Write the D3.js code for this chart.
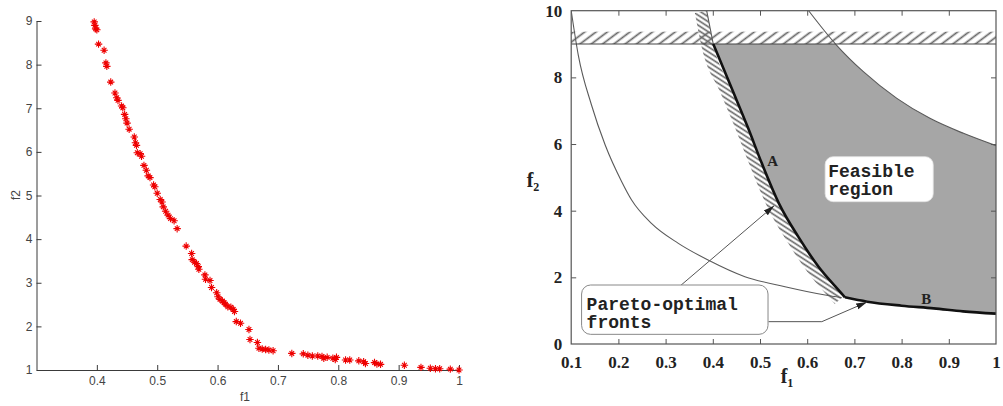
<!DOCTYPE html>
<html><head><meta charset="utf-8">
<script src="https://cdn.jsdelivr.net/npm/d3@7"></script>
<style>body{margin:0;background:#fff} svg{display:block}</style>
</head><body>
<svg id="chart" width="1003" height="406"></svg>
<script>
// ---------- LEFT PANEL DATA (obtained Pareto set) ----------
const scatterF1 = [0.3956,0.3967,0.398,0.400,0.4028,0.412,0.415,0.4165,0.423,0.430,0.433,0.435,0.441,0.443,0.446,0.448,0.450,0.4535,0.462,0.464,0.4656,0.467,0.4717,0.474,0.478,0.482,0.485,0.488,0.494,0.496,0.500,0.505,0.508,0.510,0.514,0.518,0.522,0.528,0.533,0.548,0.557,0.558,0.562,0.565,0.568,0.569,0.579,0.580,0.5875,0.590,0.5985,0.6007,0.604,0.608,0.611,0.613,0.617,0.622,0.626,0.628,0.631,0.638,0.652,0.6537,0.666,0.6685,0.674,0.6796,0.685,0.692,0.723,0.742,0.7496,0.757,0.766,0.773,0.776,0.7816,0.791,0.795,0.797,0.812,0.819,0.834,0.842,0.845,0.860,0.864,0.870,0.9095,0.937,0.9525,0.961,0.968,0.9856,1.0];
const scatterF2 = [8.98,8.90,8.82,8.80,8.47,8.33,8.04,7.96,7.60,7.35,7.24,7.18,7.05,7.01,6.86,6.76,6.66,6.52,6.34,6.21,6.15,5.98,5.96,5.90,5.69,5.58,5.45,5.41,5.24,5.20,5.05,4.91,4.85,4.74,4.64,4.55,4.47,4.42,4.24,3.84,3.67,3.53,3.47,3.44,3.37,3.31,3.18,3.08,3.05,2.89,2.77,2.68,2.62,2.58,2.54,2.51,2.45,2.44,2.39,2.34,2.11,2.07,1.93,1.70,1.63,1.50,1.48,1.47,1.46,1.44,1.38,1.37,1.34,1.32,1.32,1.31,1.27,1.29,1.27,1.24,1.29,1.23,1.23,1.21,1.19,1.15,1.17,1.14,1.13,1.11,1.06,1.04,1.03,1.03,1.02,1.0];
const leftXDomain = [0.3, 1];
const leftYDomain = [1, 9];
const leftXTicks = [0.4, 0.5, 0.6, 0.7, 0.8, 0.9, 1];
const leftYTicks = [1, 2, 3, 4, 5, 6, 7, 8, 9];

// ---------- RIGHT PANEL DATA (textbook figure) ----------
const rightXDomain = [0.1, 1];
const rightYDomain = [0, 10];
const rightXTicks = [0.1, 0.2, 0.3, 0.4, 0.5, 0.6, 0.7, 0.8, 0.9, 1];
const rightYTicks = [0, 2, 4, 6, 8, 10];
const unconstrainedCurve = [[0.1,10],[0.115,8.67],[0.143,7.17],[0.172,5.97],[0.207,4.87],[0.228,4.32],[0.27,3.62],[0.327,3.02],[0.39,2.52],[0.468,2.02],[0.553,1.72],[0.638,1.47],[0.673,1.39]];
const constraintExtension = [[0.387,10],[0.401,9.0]];
const frontA = [[0.401,9.0],[0.44,7.67],[0.475,6.47],[0.503,5.45],[0.54,4.22],[0.581,3.22],[0.624,2.32],[0.66,1.72],[0.68,1.40]];
const frontB = [[0.68,1.40],[0.727,1.27],[0.8,1.15],[0.868,1.07],[0.93,0.98],[1.0,0.91]];
const upperBoundCurve = [[0.603,10],[0.662,8.97],[0.719,8.17],[0.79,7.37],[0.86,6.77],[0.931,6.32],[1.0,5.95]];
const constraintLevel = 9;
const constraintBandTop = 9.37;
const arrowToA = [[0.324,1.66],[0.53,4.15]];
const arrowToB = [[0.518,0.67],[0.631,0.67],[0.727,1.26]];
const labelA = [0.527, 5.35];
const labelB = [0.852, 1.2];
const feasibleBox = [[0.638,5.62],[0.867,4.27]];
const feasibleText = ["Feasible", "region"];
const paretoBox = [[0.122,1.77],[0.517,0.29]];
const paretoText = ["Pareto-optimal", "fronts"];

const svg = d3.select("#chart");
const defs = svg.append("defs");

// ======================= LEFT PANEL =======================
const xL = d3.scaleLinear(leftXDomain, [36.5, 459]);
const yL = d3.scaleLinear(leftYDomain, [370, 21]);
const left = svg.append("g");
const axisColor = "#3a3a3a";

const gxL = left.append("g").attr("transform", "translate(0,370)")
  .call(d3.axisBottom(xL).tickValues(leftXTicks).tickSizeInner(-5).tickSizeOuter(0).tickPadding(6).tickFormat(d => String(d)));
const gyL = left.append("g").attr("transform", "translate(36.5,0)")
  .call(d3.axisLeft(yL).tickValues(leftYTicks).tickSizeInner(-5).tickSizeOuter(0).tickPadding(4).tickFormat(d => String(d)));
[gxL, gyL].forEach(g => {
  g.selectAll("path,line").attr("stroke", axisColor);
  g.selectAll("text").attr("fill", "#444").style("font-family", "Liberation Sans, Arial, sans-serif").style("font-size", "12px");
});

const starSymbol = {
  draw(ctx, size) {
    const r = Math.sqrt(size) / 2;
    const d = r * 0.62;
    ctx.moveTo(-r, 0); ctx.lineTo(r, 0);
    ctx.moveTo(0, -r); ctx.lineTo(0, r);
    ctx.moveTo(-d, -d); ctx.lineTo(d, d);
    ctx.moveTo(-d, d); ctx.lineTo(d, -d);
  }
};
left.append("g").selectAll("path").data(d3.range(scatterF1.length)).join("path")
  .attr("transform", i => `translate(${xL(scatterF1[i])},${yL(scatterF2[i])})`)
  .attr("d", d3.symbol(starSymbol, 56))
  .attr("fill", "none").attr("stroke", "#ee0000").attr("stroke-width", 1.1);

left.append("text").attr("x", 245).attr("y", 401).attr("text-anchor", "middle")
  .style("font-family", "Liberation Sans, Arial, sans-serif").style("font-size", "12px").attr("fill", "#444").text("f1");
left.append("text").attr("transform", "translate(20,195) rotate(-90)").attr("text-anchor", "middle")
  .style("font-family", "Liberation Sans, Arial, sans-serif").style("font-size", "12px").attr("fill", "#444").text("f2");

// ======================= RIGHT PANEL =======================
const xR = d3.scaleLinear(rightXDomain, [571.2, 996]);
const yR = d3.scaleLinear(rightYDomain, [344, 10.7]);
const right = svg.append("g");
const P = p => [xR(p[0]), yR(p[1])];
const mono = d3.line().x(d => xR(d[0])).y(d => yR(d[1])).curve(d3.curveMonotoneX);
const straight = d3.line().x(d => xR(d[0])).y(d => yR(d[1]));

defs.append("clipPath").attr("id", "frameClip").append("rect")
  .attr("x", xR(0.1)).attr("y", yR(10)).attr("width", xR(1) - xR(0.1)).attr("height", yR(0) - yR(10));

// hatch patterns
const bandPat = defs.append("pattern").attr("id", "bandHatch").attr("patternUnits", "userSpaceOnUse")
  .attr("width", 12).attr("height", 6.8).attr("patternTransform", "rotate(-37)");
bandPat.append("line").attr("x1", 0).attr("y1", 3.4).attr("x2", 12).attr("y2", 3.4).attr("stroke", "#666").attr("stroke-width", 1.7);
const stripPat = defs.append("pattern").attr("id", "stripHatch").attr("patternUnits", "userSpaceOnUse")
  .attr("width", 12).attr("height", 4.2).attr("patternTransform", "rotate(33)");
stripPat.append("line").attr("x1", 0).attr("y1", 2.1).attr("x2", 12).attr("y2", 2.1).attr("stroke", "#666").attr("stroke-width", 1.6);

// feasible region
const lowerClipD = mono(frontA) + mono(frontB).replace(/^M/, "L") +
  `L${xR(1)},${yR(constraintLevel)}L${xR(frontA[0][0])},${yR(constraintLevel)}Z`;
defs.append("clipPath").attr("id", "lowerClip").append("path").attr("d", lowerClipD);
const underUpperD = mono(upperBoundCurve) + `L${xR(1)},${yR(0)}L${xR(0.1)},${yR(0)}L${xR(0.1)},${yR(10)}Z`;
right.append("path").attr("d", underUpperD).attr("clip-path", "url(#lowerClip)").attr("fill", "#a6a6a6");

// top constraint band hatch
right.append("rect").attr("x", xR(0.1)).attr("y", yR(constraintBandTop))
  .attr("width", xR(1) - xR(0.1)).attr("height", yR(constraintLevel) - yR(constraintBandTop))
  .attr("fill", "url(#bandHatch)");

// hatched strip on infeasible side of constraint A
const tmp = right.append("path").attr("d", mono(constraintExtension.concat(frontA.slice(1)))).attr("fill", "none");
const node = tmp.node();
const L = node.getTotalLength();
const samples = d3.range(0, L + 0.01, 2).map(s => node.getPointAtLength(Math.min(s, L)));
const offsetPts = samples.map((p, i) => {
  const a = samples[Math.max(0, i - 1)], b = samples[Math.min(samples.length - 1, i + 1)];
  let tx = b.x - a.x, ty = b.y - a.y; const n = Math.hypot(tx, ty) || 1; tx /= n; ty /= n;
  return [p.x - ty * 12, p.y + tx * 12];
});
tmp.remove();
const stripPoly = samples.map(p => [p.x, p.y]).concat(offsetPts.reverse());
right.append("path").attr("d", "M" + stripPoly.map(p => p.join(",")).join("L") + "Z")
  .attr("fill", "url(#stripHatch)").attr("clip-path", "url(#frameClip)");

// thin curves
const thin = right.append("g").attr("fill", "none").attr("stroke", "#5a5a5a").attr("stroke-width", 1.1).attr("clip-path", "url(#frameClip)");
thin.append("path").attr("d", mono(unconstrainedCurve));
thin.append("path").attr("d", straight(constraintExtension));
thin.append("path").attr("d", mono(upperBoundCurve));
thin.append("line").attr("x1", xR(0.1)).attr("x2", xR(1)).attr("y1", yR(constraintLevel)).attr("y2", yR(constraintLevel)).attr("stroke", "#444");

// thick Pareto fronts
right.append("path").attr("d", mono(frontA)).attr("fill", "none").attr("stroke", "#111").attr("stroke-width", 2.6);
right.append("path").attr("d", mono(frontB)).attr("fill", "none").attr("stroke", "#111").attr("stroke-width", 2.6);

// annotation boxes
const fb0 = P(feasibleBox[0]), fb1 = P(feasibleBox[1]);
right.append("rect").attr("x", fb0[0]).attr("y", fb0[1]).attr("width", fb1[0] - fb0[0]).attr("height", fb1[1] - fb0[1])
  .attr("rx", 8).attr("fill", "#fff").attr("stroke", "#e2e2e2").attr("stroke-width", 0.8);
right.append("g").selectAll("text").data(feasibleText).join("text")
  .attr("x", fb0[0] + 3).attr("y", (d, i) => fb0[1] + 20 + i * 18.3)
  .style("font-family", "Liberation Mono, Courier New, monospace").style("font-size", "18px").style("font-weight", "bold")
  .attr("fill", "#222").text(d => d);

// arrows
const marker = defs.append("marker").attr("id", "arrowHead").attr("markerUnits", "userSpaceOnUse")
  .attr("markerWidth", 12).attr("markerHeight", 8).attr("refX", 11).attr("refY", 4).attr("orient", "auto");
marker.append("path").attr("d", "M0,0.8L11,4L0,7.2Z").attr("fill", "#222");
right.append("path").attr("d", straight(arrowToA)).attr("fill", "none").attr("stroke", "#555").attr("stroke-width", 1).attr("marker-end", "url(#arrowHead)");
right.append("path").attr("d", straight(arrowToB)).attr("fill", "none").attr("stroke", "#555").attr("stroke-width", 1).attr("marker-end", "url(#arrowHead)");

const pb0 = P(paretoBox[0]), pb1 = P(paretoBox[1]);
right.append("rect").attr("x", pb0[0]).attr("y", pb0[1]).attr("width", pb1[0] - pb0[0]).attr("height", pb1[1] - pb0[1])
  .attr("rx", 9).attr("fill", "#fff").attr("stroke", "#888").attr("stroke-width", 1);
right.append("g").selectAll("text").data(paretoText).join("text")
  .attr("x", pb0[0] + 5).attr("y", (d, i) => pb0[1] + 25 + i * 18.3)
  .style("font-family", "Liberation Mono, Courier New, monospace").style("font-size", "18px").style("font-weight", "bold")
  .attr("fill", "#222").text(d => d);

// A / B labels
right.append("text").attr("x", P(labelA)[0]).attr("y", P(labelA)[1]).attr("text-anchor", "middle")
  .style("font-family", "Liberation Serif, Times New Roman, serif").style("font-size", "15px").style("font-weight", "bold").attr("fill", "#222").text("A");
right.append("text").attr("x", P(labelB)[0]).attr("y", P(labelB)[1]).attr("text-anchor", "middle")
  .style("font-family", "Liberation Serif, Times New Roman, serif").style("font-size", "15px").style("font-weight", "bold").attr("fill", "#222").text("B");

// frame & axes
const frameColor = "#555";
right.append("rect").attr("x", xR(0.1)).attr("y", yR(10)).attr("width", xR(1) - xR(0.1)).attr("height", yR(0) - yR(10))
  .attr("fill", "none").attr("stroke", frameColor).attr("stroke-width", 1.2);
const innerX = rightXTicks.slice(1, -1), innerY = rightYTicks.slice(1, -1);
const serifBold = g => g.selectAll("text").style("font-family", "Liberation Serif, Times New Roman, serif")
  .style("font-size", "17px").style("font-weight", "bold").attr("fill", "#222");
const gxR = right.append("g").attr("transform", `translate(0,${yR(0)})`)
  .call(d3.axisBottom(xR).tickValues(rightXTicks).tickSizeInner(-5).tickSizeOuter(0).tickPadding(12).tickFormat(d => String(+d.toFixed(1))));
gxR.selectAll(".tick line").attr("stroke", d => innerX.includes(d) ? frameColor : "none");
gxR.select(".domain").remove(); serifBold(gxR);
const gyR = right.append("g").attr("transform", `translate(${xR(0.1)},0)`)
  .call(d3.axisLeft(yR).tickValues(rightYTicks).tickSizeInner(-5).tickSizeOuter(0).tickPadding(9).tickFormat(d => String(d)));
gyR.selectAll(".tick line").attr("stroke", d => innerY.includes(d) ? frameColor : "none");
gyR.select(".domain").remove(); serifBold(gyR);
const gtR = right.append("g").attr("transform", `translate(0,${yR(10)})`)
  .call(d3.axisTop(xR).tickValues(innerX).tickSizeInner(-5).tickSizeOuter(0).tickFormat(""));
gtR.selectAll(".tick line").attr("stroke", frameColor); gtR.select(".domain").remove();
const grR = right.append("g").attr("transform", `translate(${xR(1)},0)`)
  .call(d3.axisRight(yR).tickValues(innerY).tickSizeInner(-5).tickSizeOuter(0).tickFormat(""));
grR.selectAll(".tick line").attr("stroke", frameColor); grR.select(".domain").remove();

// axis titles
const t1 = right.append("text").attr("x", 787).attr("y", 383).attr("text-anchor", "middle")
  .style("font-family", "Liberation Serif, Times New Roman, serif").style("font-size", "20px").style("font-weight", "bold").attr("fill", "#222");
t1.append("tspan").text("f");
t1.append("tspan").attr("dy", 4).style("font-size", "12px").text("1");
const t2 = right.append("text").attr("x", 533).attr("y", 187).attr("text-anchor", "middle")
  .style("font-family", "Liberation Serif, Times New Roman, serif").style("font-size", "20px").style("font-weight", "bold").attr("fill", "#222");
t2.append("tspan").text("f");
t2.append("tspan").attr("dy", 4).style("font-size", "12px").text("2");
</script>
</body></html>
